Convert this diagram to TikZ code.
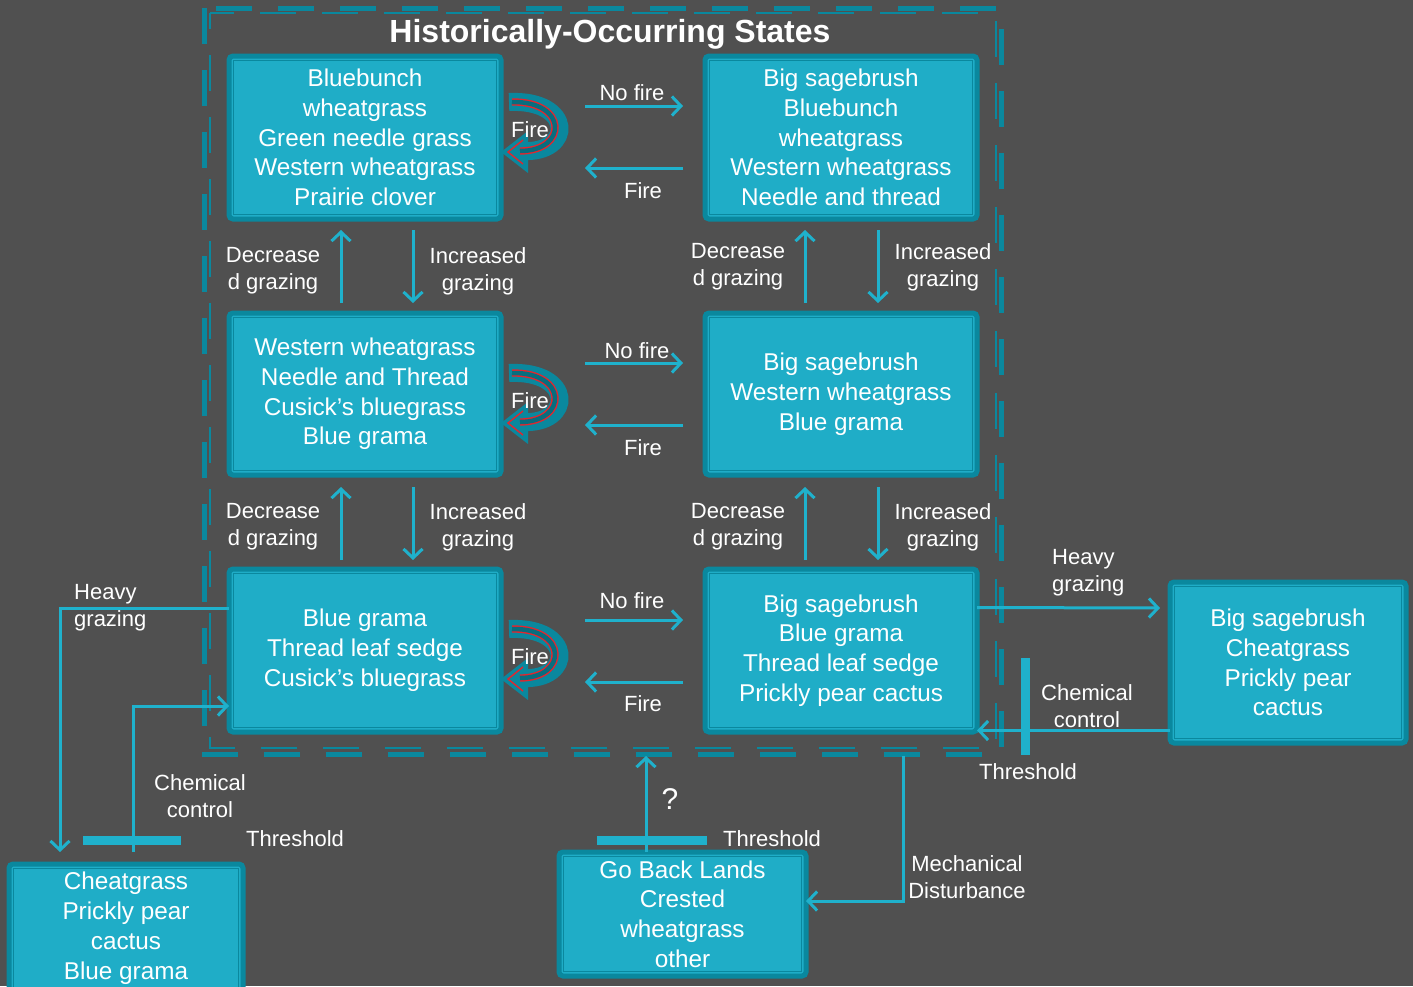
\documentclass[tikz,border=0pt]{standalone}
\usepackage{fontspec}
\setmainfont{Liberation Sans}
\usetikzlibrary{arrows.meta,calc}
\definecolor{bg}{HTML}{505050}
\definecolor{boxfill}{HTML}{1FADC7}
\definecolor{boxline}{HTML}{0A889E}
\definecolor{arrc}{HTML}{1FB1CC}
\definecolor{firered}{HTML}{E3262E}
\begin{document}
\begin{tikzpicture}[x=1pt,y=-1pt,
 box/.style={draw=boxline, line width=5pt, fill=boxfill, rounded corners=4pt, text=white, align=center, inner sep=0pt, outer sep=0pt, font=\fontsize{24.3}{29.8}\selectfont},
 innerline/.style={draw=boxline, line width=1pt},
 arr/.style={draw=arrc, line width=3pt, -{Straight Barb[length=9pt,width=19pt]}},
 lbl/.style={text=white, font=\fontsize{22}{27}\selectfont, align=center, inner sep=0pt},
 lbll/.style={text=white, font=\fontsize{22}{27}\selectfont, align=left, inner sep=0pt},
 bar/.style={draw=arrc, line width=9pt},
 frameline/.style={draw=boxline, line width=5pt, dash pattern=on 36pt off 26pt},
 frameinner/.style={draw=boxline, line width=1.5pt, dash pattern=on 36pt off 26pt, dash phase=20pt},
]
\fill[bg] (0,0) rectangle (1413,986);
\useasboundingbox (0,0) rectangle (1413,986);

% outer dashed frame
\draw[frameline] (204,8) rectangle (1001,754);
\draw[frameinner] (210,13) rectangle (996,748);

\node[text=white, font=\bfseries\fontsize{32}{36}\selectfont, inner sep=0pt] (T) at (610,34) {Historically-Occurring States};

% boxes
\node[box, minimum width=272pt, minimum height=163pt] (A) at (365,137.5) {Bluebunch\\wheatgrass\\Green needle grass\\Western wheatgrass\\Prairie clover};
\node[box, minimum width=272pt, minimum height=163pt] (B) at (841,137.5) {Big sagebrush\\Bluebunch\\wheatgrass\\Western wheatgrass\\Needle and thread};
\node[box, minimum width=272pt, minimum height=162pt] (C) at (365,394) {Western wheatgrass\\Needle and Thread\\Cusick’s bluegrass\\Blue grama};
\node[box, minimum width=272pt, minimum height=162pt] (D) at (841,394) {Big sagebrush\\Western wheatgrass\\Blue grama};
\node[box, minimum width=272pt, minimum height=163pt] (E) at (365,650.5) {Blue grama\\Thread leaf sedge\\Cusick’s bluegrass};
\node[box, minimum width=272pt, minimum height=163pt] (F) at (841,650.5) {Big sagebrush\\Blue grama\\Thread leaf sedge\\Prickly pear cactus};
\node[box, minimum width=236pt, minimum height=161pt] (G) at (1288,662.5) {Big sagebrush\\Cheatgrass\\Prickly pear\\cactus};
\node[box, minimum width=234pt, minimum height=128pt] (H) at (126,928) {Cheatgrass\\Prickly pear\\cactus\\Blue grama};
\node[box, minimum width=247pt, minimum height=124pt] (I) at (682.5,914) {Go Back Lands\\Crested\\wheatgrass\\other};

\foreach \n in {A,B,C,D,E,F,G,H,I}
  \draw[innerline] ([shift={(4.5pt,-4.5pt)}]\n.north west) rectangle ([shift={(-4.5pt,4.5pt)}]\n.south east);

% fire loops
\foreach \cy/\nm in {127/f1,398/f2,654/f3}{
\begin{scope}[shift={(0,\cy)}]
  \draw[draw=boxline, line width=18pt] (509,-25) .. controls (574,-28) and (574,27) .. (522,24);
  \fill[boxline] (528,4) -- (501,25) -- (528,46) -- cycle;
  \draw[firered, line width=1.4pt, double=boxline!80!black, double distance=4.5pt] (512,-25) .. controls (568,-26) and (568,24) .. (520,24);
  \draw[firered, line width=1.4pt] (523,13) -- (508,25) -- (523,37);
  \node[lbl] (\nm) at (530,3) {Fire};
\end{scope}
}

% horizontal fire / no fire arrows
\draw[arr] ([xshift=84pt,yshift=31.5pt]A.east) -- ([xshift=-22pt,yshift=31.5pt]B.west);
\draw[arr] ([xshift=-22pt,yshift=-30.5pt]B.west) -- ([xshift=84pt,yshift=-30.5pt]A.east);
\draw[arr] ([xshift=84pt,yshift=31pt]C.east) -- ([xshift=-22pt,yshift=31pt]D.west);
\draw[arr] ([xshift=-22pt,yshift=-31pt]D.west) -- ([xshift=84pt,yshift=-31pt]C.east);
\draw[arr] ([xshift=84pt,yshift=30.5pt]E.east) -- ([xshift=-22pt,yshift=30.5pt]F.west);
\draw[arr] ([xshift=-22pt,yshift=-31.5pt]F.west) -- ([xshift=84pt,yshift=-31.5pt]E.east);

\node[lbl] (nf1) at (632,93) {No fire};
\node[lbl] (fi1) at (643,191) {Fire};
\node[lbl] (nf2) at (637,351) {No fire};
\node[lbl] (fi2) at (643,448) {Fire};
\node[lbl] (nf3) at (632,601) {No fire};
\node[lbl] (fi3) at (643,704) {Fire};

% vertical arrows
\draw[arr] ([xshift=-24pt,yshift=10pt]C.north) -- ([xshift=-24pt,yshift=-11pt]A.south);
\draw[arr] ([xshift=48pt,yshift=-11pt]A.south) -- ([xshift=48pt,yshift=10pt]C.north);
\draw[arr] ([xshift=-36pt,yshift=10pt]D.north) -- ([xshift=-36pt,yshift=-11pt]B.south);
\draw[arr] ([xshift=37pt,yshift=-11pt]B.south) -- ([xshift=37pt,yshift=10pt]D.north);
\draw[arr] ([xshift=-24pt,yshift=9pt]E.north) -- ([xshift=-24pt,yshift=-12pt]C.south);
\draw[arr] ([xshift=48pt,yshift=-12pt]C.south) -- ([xshift=48pt,yshift=9pt]E.north);
\draw[arr] ([xshift=-36pt,yshift=9pt]F.north) -- ([xshift=-36pt,yshift=-12pt]D.south);
\draw[arr] ([xshift=37pt,yshift=-12pt]D.south) -- ([xshift=37pt,yshift=9pt]F.north);

\node[lbl] (dg1) at (273,271) {Decrease\\d grazing};
\node[lbl] (ig1) at (478,271) {Increased\\grazing};
\node[lbl] (dg2) at (738,267) {Decrease\\d grazing};
\node[lbl] (ig2) at (943,267) {Increased\\grazing};
\node[lbl] (dg3) at (273,527) {Decrease\\d grazing};
\node[lbl] (ig3) at (478,527) {Increased\\grazing};
\node[lbl] (dg4) at (738,527) {Decrease\\d grazing};
\node[lbl] (ig4) at (943,527) {Increased\\grazing};

% left transitions
\coordinate (hgL) at (60,852);
\coordinate (ccL) at (133,852);
\draw[arr] ([yshift=42.5pt]E.west) -| (hgL);
\draw[arr] (ccL) |- ([yshift=-55.5pt]E.west);
\draw[bar] (83,840) -- (181,840);
\node[lbll, anchor=west] (hg1) at (74,608) {Heavy\\grazing};
\node[lbl] (cc1) at (200,796) {Chemical\\control};
\node[lbl] (th1) at (295,839) {Threshold};

% right transitions
\draw[arr] ([yshift=43pt]F.east) -- ([xshift=-10pt,yshift=54.5pt]G.west);
\draw[arr] ([yshift=-68pt]G.west) -- ([yshift=-80pt]F.east);
\draw[bar] (1025,658) -- (1025,755);
\node[lbll, anchor=west] (hg2) at (1052,572.5) {Heavy\\grazing};
\node[lbl] (cc2) at (1087,706) {Chemical\\control};
\node[lbl] (th2) at (1028,772) {Threshold};

% bottom transitions
\coordinate (qtop) at (646,756);
\coordinate (mtop) at (903,756);
\draw[arr] ([xshift=-36.5pt]I.north) -- (qtop);
\draw[bar] (597,840) -- (707,840);
\draw[arr] (mtop) |- ([yshift=13pt]I.east);
\node[text=white, font=\fontsize{30}{34}\selectfont, inner sep=0pt] (q) at (670,799) {?};
\node[lbl] (th3) at (772,839) {Threshold};
\node[lbl] (md) at (967,877) {Mechanical\\Disturbance};
\end{tikzpicture}
\end{document}
